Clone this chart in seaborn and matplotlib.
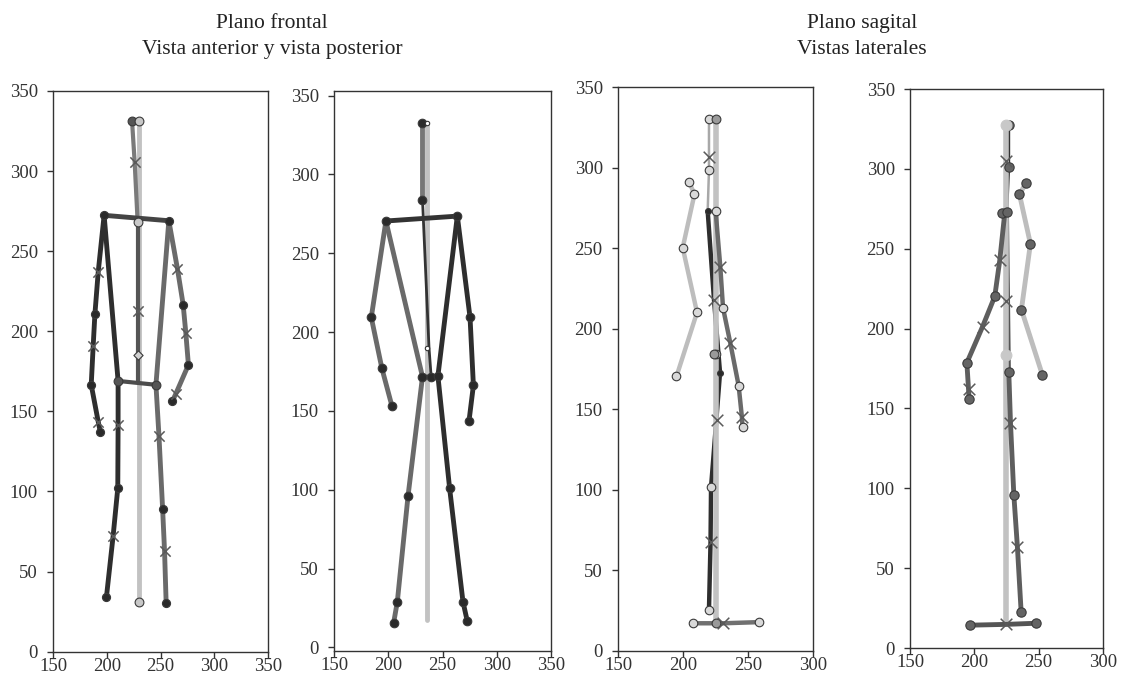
import numpy as np
import pandas as pd
import matplotlib
matplotlib.use('Agg')
import matplotlib.pyplot as plt
import seaborn as sns

sns.set_style('ticks')
plt.rcParams['font.family'] = ['Liberation Serif', 'DejaVu Serif']

# ---------------- data: frontal plane, anterior view ----------------
ant_plumb_x = [230, 230]
ant_plumb_y = [31, 331]
ant_neck_x = [223.5, 225.9, 228.7]
ant_neck_y = [331, 305.6, 268]
ant_shoulder_x = [197.5, 257.7]
ant_shoulder_y = [272.4, 269]
ant_spine_x = [228.7, 228.7, 228.7]
ant_spine_y = [269, 212.9, 168.5]
ant_hip_x = [210.5, 245.7]
ant_hip_y = [169, 166.6]
ant_ltorso_x = [197.5, 210.5]
ant_ltorso_y = [272.4, 169]
ant_rtorso_x = [257.7, 245.7]
ant_rtorso_y = [269, 166.6]
ant_larm_x = [197.5, 192, 188.9, 187.3, 185.5, 192, 194]
ant_larm_y = [272.4, 237, 210.5, 190.5, 166.6, 143.6, 137]
ant_lleg_x = [210.5, 210.5, 210.2, 205.9, 199.7]
ant_lleg_y = [169, 141.7, 102, 72.4, 34.4]
ant_rarm_x = [257.7, 265.7, 271, 273.5, 275.9, 264.2, 261]
ant_rarm_y = [269, 239, 216.7, 198.9, 179, 161, 156.4]
ant_rleg_x = [245.7, 248.5, 251.9, 253.7, 255.2]
ant_rleg_y = [166.6, 134.8, 89.2, 62.9, 30.4]
ant_joint_dark_x = [197.5, 257.7, 188.9, 185.5, 194, 210.2, 199.7, 271, 275.9, 261, 251.9, 255.2]
ant_joint_dark_y = [272.4, 269, 210.5, 166.6, 137, 102, 34.4, 216.7, 179, 156.4, 89.2, 30.4]
ant_joint_mid_x = [210.5, 245.7, 223.5]
ant_joint_mid_y = [169, 166.6, 331]
ant_joint_light_x = [230, 230, 228.7]
ant_joint_light_y = [331, 31, 268]
ant_cross_x = [225.9, 228.7, 192, 187.3, 192, 210.5, 205.9, 265.7, 273.5, 264.2, 248.5, 253.7]
ant_cross_y = [305.6, 212.9, 237, 190.5, 143.6, 141.7, 72.4, 239, 198.9, 161, 134.8, 62.9]
ant_centre_x = [228.7]
ant_centre_y = [185]

# ---------------- data: frontal plane, posterior view ----------------
pos_plumb_x = [235.2, 235.2]
pos_plumb_y = [17.5, 332.7]
pos_neck_x = [231.5, 231.5]
pos_neck_y = [332.7, 284]
pos_spine_x = [231.5, 237.5, 239.5]
pos_spine_y = [284, 190, 171.7]
pos_shoulder_x = [197.8, 263.6]
pos_shoulder_y = [270.5, 273.6]
pos_larm_x = [197.8, 184.3, 194.1, 203.4]
pos_larm_y = [270.5, 209.4, 177, 153]
pos_ltorso_x = [197.8, 231.5]
pos_ltorso_y = [270.5, 171.7]
pos_lleg_x = [231.5, 218.2, 208.3, 204.9]
pos_lleg_y = [171.7, 96.3, 29, 15.6]
pos_rarm_x = [263.6, 275.3, 278.4, 274.4]
pos_rarm_y = [273.6, 209.4, 166.2, 143.9]
pos_rtorso_x = [263.6, 245.7]
pos_rtorso_y = [273.6, 172.2]
pos_rleg_x = [245.7, 256.5, 268.8, 272.8]
pos_rleg_y = [172.2, 100.9, 29, 16.6]
pos_hip_x = [231.5, 239.5, 245.7]
pos_hip_y = [171.7, 171.7, 172.2]
pos_joint_x = [231.5, 231.5, 197.8, 263.6, 184.3, 194.1, 203.4, 275.3, 278.4, 274.4,
               231.5, 239.5, 245.7, 218.2, 208.3, 204.9, 256.5, 268.8, 272.8]
pos_joint_y = [332.7, 284, 270.5, 273.6, 209.4, 177, 153, 209.4, 166.2, 143.9,
               171.7, 171.7, 172.2, 96.3, 29, 15.6, 100.9, 29, 16.6]
pos_open_x = [235.8, 235.2]
pos_open_y = [332.7, 190.2]

# ---------------- data: sagittal plane, lateral view 1 ----------------
lat1_plumb_x = [225.1, 225.1]
lat1_plumb_y = [17, 330]
lat1_head_x = [220, 220, 220, 219]
lat1_head_y = [330, 306.7, 298.4, 273]
lat1_barm_x = [204.9, 208.8, 199.8, 210.8, 195]
lat1_barm_y = [290.8, 283.3, 250.2, 210, 170.3]
lat1_body_x = [219, 223.9, 228.5, 221.6, 221.2, 220]
lat1_body_y = [273, 217.5, 172.6, 101.7, 67.4, 25.5]
lat1_farm_x = [225.1, 228.7, 230.8, 236.4, 242.8, 245.3, 245.8]
lat1_farm_y = [273, 238.4, 212.8, 191, 164.6, 145.2, 139]
lat1_foot_x = [208, 225.1, 231, 258.1]
lat1_foot_y = [17, 17, 17, 17.7]
lat1_joint_light_x = [220, 220, 204.9, 208.8, 199.8, 210.8, 195, 225.1, 230.8, 242.8, 245.8,
                      221.6, 220, 208, 258.1, 225.5]
lat1_joint_light_y = [330, 298.4, 290.8, 283.3, 250.2, 210, 170.3, 273, 212.8, 164.6, 139,
                      101.7, 25.5, 17, 17.7, 184]
lat1_joint_mid_x = [225.1, 224, 225.1]
lat1_joint_mid_y = [330, 184, 17]
lat1_joint_dark_x = [219, 228.5]
lat1_joint_dark_y = [273, 172.6]
lat1_cross_x = [220, 223.9, 221.2, 228.7, 236.4, 245.3, 226.2, 231]
lat1_cross_y = [306.7, 217.5, 67.4, 238.4, 191, 145.2, 143.5, 17]

# ---------------- data: sagittal plane, lateral view 2 ----------------
lat2_plumb_x = [224.7, 224.7]
lat2_plumb_y = [14.8, 327.4]
lat2_neck_x = [226.8, 226.8, 225.3]
lat2_neck_y = [327.4, 301.2, 273.3]
lat2_torso_x = [225.3, 226.8]
lat2_torso_y = [273.3, 172.6]
lat2_farm_x = [223.7, 219.8, 215.9, 206.4, 194.2, 195.5, 196]
lat2_farm_y = [272.6, 242.9, 220.2, 201.2, 178.6, 161.9, 156]
lat2_barm_x = [240, 235.1, 243.6, 236.6, 252.9]
lat2_barm_y = [291, 284, 253.1, 211.9, 171]
lat2_leg_x = [226.8, 228.1, 230.7, 233.5, 236.4]
lat2_leg_y = [172.6, 141.2, 96, 63.1, 22.6]
lat2_foot_x = [196.8, 224.7, 247.7]
lat2_foot_y = [14.3, 14.8, 15.5]
lat2_joint_x = [226.8, 226.8, 221.9, 225.3, 215.9, 194.2, 196, 240, 235.1, 243.6, 236.6, 252.9,
                226.8, 230.7, 236.4, 196.8, 247.7]
lat2_joint_y = [327.4, 301.2, 272.6, 273.3, 220.2, 178.6, 156, 291, 284, 253.1, 211.9, 171,
                172.6, 96, 22.6, 14.3, 15.5]
lat2_joint_light_x = [224.7, 224.7]
lat2_joint_light_y = [327.4, 183.3]
lat2_cross_x = [224.7, 224.7, 224.7, 219.8, 206.4, 195.5, 228.1, 233.5]
lat2_cross_y = [305.2, 217.4, 14.8, 242.9, 201.2, 161.9, 141.2, 63.1]

y_ticks = [0, 50, 100, 150, 200, 250, 300, 350]
x_ticks_front = [150, 200, 250, 300, 350]
x_ticks_side = [150, 200, 250, 300]

DARK = '#2e2e2e'
MID = '#6a6a6a'
LIGHT = '#c2c2c2'


def chain(ax, xs, ys, color, lw=3.2, z=2):
	df = pd.DataFrame({'x': xs, 'y': ys})
	sns.lineplot(data=df, x='x', y='y', sort=False, estimator=None,
		color=color, linewidth=lw, ax=ax, zorder=z, solid_capstyle='round')


def joints(ax, xs, ys, face, size=34, edge='#3a3a3a', z=4, marker='o'):
	sns.scatterplot(x=xs, y=ys, marker=marker, s=size, color=face,
		edgecolor=edge, linewidth=0.8, ax=ax, zorder=z)


def crosses(ax, xs, ys, color='#5a5a5a', size=55):
	sns.scatterplot(x=xs, y=ys, marker='x', s=size, color=color,
		linewidth=1.1, ax=ax, zorder=5)


def style_axes(ax, xlim, ylim, xticks):
	ax.set_xlim(*xlim)
	ax.set_ylim(*ylim)
	ax.set_xticks(xticks)
	ax.set_yticks(y_ticks)
	ax.set_xlabel('')
	ax.set_ylabel('')
	for s in ax.spines.values():
		s.set_visible(True)
		s.set_color('#333333')
		s.set_linewidth(1.0)
	ax.tick_params(labelsize=13.5, colors='#333333', length=4, width=1)
	ax.tick_params(axis='x', pad=0.5)
	ax.tick_params(axis='y', pad=7)


fig = plt.figure(figsize=(11.24, 6.76), dpi=100)

# panel 1
ax = fig.add_axes([0.0472, 0.036, 0.1913, 0.8294])
chain(ax, ant_plumb_x, ant_plumb_y, LIGHT, 3.5, 1)
chain(ax, ant_neck_x, ant_neck_y, '#7a7a7a', 3.0)
chain(ax, ant_shoulder_x, ant_shoulder_y, '#444444', 3.5)
chain(ax, ant_spine_x, ant_spine_y, '#555555', 3.0)
chain(ax, ant_hip_x, ant_hip_y, '#4c4c4c', 3.0)
chain(ax, ant_ltorso_x, ant_ltorso_y, DARK, 3.5)
chain(ax, ant_rtorso_x, ant_rtorso_y, MID, 3.5)
chain(ax, ant_larm_x, ant_larm_y, DARK, 3.5)
chain(ax, ant_lleg_x, ant_lleg_y, DARK, 3.5)
chain(ax, ant_rarm_x, ant_rarm_y, MID, 3.5)
chain(ax, ant_rleg_x, ant_rleg_y, MID, 3.5)
joints(ax, ant_joint_dark_x, ant_joint_dark_y, '#2a2a2a')
joints(ax, ant_joint_mid_x, ant_joint_mid_y, '#555555', size=40)
joints(ax, ant_joint_light_x, ant_joint_light_y, '#c8c8c8', size=40)
joints(ax, ant_centre_x, ant_centre_y, '#d0d0d0', size=22, marker='D')
crosses(ax, ant_cross_x, ant_cross_y)
style_axes(ax, (150, 350), (0, 350), x_ticks_front)

# panel 2
ax = fig.add_axes([0.2972, 0.0375, 0.1931, 0.828])
chain(ax, pos_plumb_x, pos_plumb_y, LIGHT, 3.5, 1)
chain(ax, pos_neck_x, pos_neck_y, '#777777', 3.5)
chain(ax, pos_spine_x, pos_spine_y, '#333333', 2.0, 3)
chain(ax, pos_shoulder_x, pos_shoulder_y, '#333333', 3.5)
chain(ax, pos_larm_x, pos_larm_y, MID, 3.5)
chain(ax, pos_ltorso_x, pos_ltorso_y, MID, 3.5)
chain(ax, pos_lleg_x, pos_lleg_y, MID, 3.5)
chain(ax, pos_rarm_x, pos_rarm_y, DARK, 3.5)
chain(ax, pos_rtorso_x, pos_rtorso_y, DARK, 3.5)
chain(ax, pos_rleg_x, pos_rleg_y, DARK, 3.5)
chain(ax, pos_hip_x, pos_hip_y, DARK, 3.0)
joints(ax, pos_joint_x, pos_joint_y, '#2a2a2a', size=38)
joints(ax, pos_open_x, pos_open_y, 'white', size=10, edge='#333333')
style_axes(ax, (150, 350), (-2, 353), x_ticks_front)

# panel 3
ax = fig.add_axes([0.5498, 0.0375, 0.1735, 0.8338])
chain(ax, lat1_barm_x, lat1_barm_y, '#bdbdbd', 3.2, 1)
chain(ax, lat1_head_x, lat1_head_y, '#a8a8a8', 1.8, 1)
chain(ax, lat1_body_x, lat1_body_y, DARK, 3.2, 2)
chain(ax, lat1_plumb_x, lat1_plumb_y, LIGHT, 4.0, 3)
chain(ax, lat1_farm_x, lat1_farm_y, MID, 3.2, 3)
chain(ax, lat1_foot_x, lat1_foot_y, '#707070', 3.2, 2)
joints(ax, lat1_joint_light_x, lat1_joint_light_y, '#d9d9d9', size=38)
joints(ax, lat1_joint_mid_x, lat1_joint_mid_y, '#9a9a9a', size=40)
joints(ax, lat1_joint_dark_x, lat1_joint_dark_y, '#2a2a2a', size=18)
crosses(ax, lat1_cross_x, lat1_cross_y, size=70)
style_axes(ax, (150, 300), (0, 350), x_ticks_side)

# panel 4
ax = fig.add_axes([0.8096, 0.0414, 0.1717, 0.8269])
chain(ax, lat2_neck_x, lat2_neck_y, '#333333', 2.0, 1)
chain(ax, lat2_torso_x, lat2_torso_y, '#555555', 3.0, 1)
chain(ax, lat2_barm_x, lat2_barm_y, '#bdbdbd', 3.5, 1)
chain(ax, lat2_plumb_x, lat2_plumb_y, LIGHT, 4.0, 2)
chain(ax, lat2_farm_x, lat2_farm_y, '#5e5e5e', 3.5, 3)
chain(ax, lat2_leg_x, lat2_leg_y, '#5e5e5e', 3.5, 3)
chain(ax, lat2_foot_x, lat2_foot_y, '#555555', 3.5, 3)
joints(ax, lat2_joint_x, lat2_joint_y, '#646464', size=45)
joints(ax, lat2_joint_light_x, lat2_joint_light_y, '#c8c8c8', size=60, edge='#c8c8c8')
crosses(ax, lat2_cross_x, lat2_cross_y, size=70)
style_axes(ax, (150, 300), (0, 350), x_ticks_side)

fig.text(0.242, 0.965, 'Plano frontal', ha='center', va='center', fontsize=15.5, color='#222222')
fig.text(0.242, 0.927, 'Vista anterior y vista posterior', ha='center', va='center', fontsize=15.5, color='#222222')
fig.text(0.767, 0.965, 'Plano sagital', ha='center', va='center', fontsize=15.5, color='#222222')
fig.text(0.767, 0.927, 'Vistas laterales', ha='center', va='center', fontsize=15.5, color='#222222')

fig.savefig('out.png', dpi=100)
